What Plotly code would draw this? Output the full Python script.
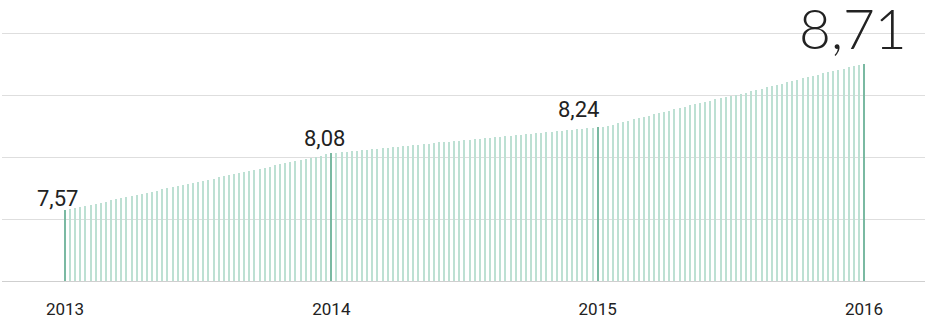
import plotly.graph_objects as go

# ---- data ----
weeks_per_year = 52
start_year = 2013
values = [
    # 2013
    7.570, 7.579, 7.588, 7.597, 7.605, 7.614, 7.623, 7.632, 7.641, 7.650,
    7.658, 7.667, 7.676, 7.685, 7.694, 7.703, 7.711, 7.720, 7.729, 7.738,
    7.747, 7.756, 7.764, 7.773, 7.782, 7.791, 7.800, 7.809, 7.817, 7.826,
    7.835, 7.844, 7.853, 7.862, 7.870, 7.879, 7.888, 7.897, 7.906, 7.915,
    7.923, 7.932, 7.941, 7.950, 7.959, 7.968, 7.976, 7.985, 7.994, 8.003,
    8.012, 8.021,
    # 2014
    8.030, 8.036, 8.040, 8.044, 8.048, 8.052, 8.056, 8.060, 8.064, 8.068,
    8.072, 8.076, 8.080, 8.084, 8.088, 8.092, 8.096, 8.100, 8.104, 8.108,
    8.112, 8.117, 8.121, 8.125, 8.129, 8.133, 8.137, 8.141, 8.145, 8.149,
    8.153, 8.157, 8.161, 8.165, 8.169, 8.173, 8.177, 8.181, 8.185, 8.189,
    8.193, 8.197, 8.201, 8.205, 8.209, 8.213, 8.217, 8.221, 8.225, 8.229,
    8.233, 8.237,
    # 2015
    8.240, 8.246, 8.253, 8.262, 8.272, 8.282, 8.292, 8.303, 8.313, 8.323,
    8.334, 8.344, 8.354, 8.365, 8.375, 8.385, 8.396, 8.406, 8.416, 8.426,
    8.436, 8.446, 8.455, 8.464, 8.473, 8.482, 8.491, 8.500, 8.509, 8.519,
    8.529, 8.540, 8.550, 8.561, 8.571, 8.582, 8.592, 8.603, 8.613, 8.624,
    8.634, 8.644, 8.654, 8.664, 8.674, 8.684, 8.694, 8.703, 8.713, 8.723,
    8.733, 8.743,
    # 2016 (first week)
    8.752,
]
x_vals = [start_year + i / weeks_per_year for i in range(len(values))]

year_ticks = [2013, 2014, 2015, 2016]
year_labels = ["2013", "2014", "2015", "2016"]
value_labels = ["7,57", "8,08", "8,24", "8,71"]

# ---- styles ----
bar_color = "#bde0d3"
year_bar_color = "#7ab9a2"
text_color = "#222222"

year_idx = [round((y - start_year) * weeks_per_year) for y in year_ticks]
colors = [year_bar_color if i in year_idx else bar_color for i in range(len(values))]

fig = go.Figure()
fig.add_trace(go.Bar(
    x=x_vals, y=values, width=0.0038,
    marker=dict(color=colors, line=dict(width=0)),
    hoverinfo="skip",
))

label_style = [
    dict(xshift=-7, yshift=-3, size=22, family="Roboto, sans-serif", weight=400),
    dict(xshift=-7, yshift=0, size=22, family="Roboto, sans-serif", weight=400),
    dict(xshift=-19, yshift=3, size=22, family="Roboto, sans-serif", weight=400),
    dict(xshift=-11, yshift=1, size=55, family="Lato, sans-serif", weight=300),
]
for yr, txt, st in zip(year_ticks, value_labels, label_style):
    i = round((yr - start_year) * weeks_per_year)
    fig.add_annotation(
        x=x_vals[i], y=values[i], xref="x", yref="y", text=txt,
        showarrow=False, xanchor="center", yanchor="bottom",
        xshift=st["xshift"], yshift=st["yshift"],
        font=dict(size=st["size"], family=st["family"], color=text_color,
                  weight=st["weight"]),
    )

fig.update_layout(
    width=944, height=322,
    margin=dict(l=2, r=19, t=31, b=41),
    paper_bgcolor="white", plot_bgcolor="white",
    showlegend=False, bargap=0,
    xaxis=dict(
        range=[2012.7635, 2016.229],
        tickvals=year_ticks, ticktext=year_labels,
        showgrid=False, zeroline=False,
        showline=True, linecolor="#cfcfcf", linewidth=1,
        ticks="", ticklabelstandoff=13,
        tickfont=dict(size=17, family="Roboto, sans-serif", color=text_color),
        fixedrange=True,
    ),
    yaxis=dict(
        range=[7, 7 + 250 / 124], dtick=0.5, tick0=7,
        showgrid=True, gridcolor="#dedede", gridwidth=1,
        zeroline=False, showticklabels=False, ticks="",
        fixedrange=True,
    ),
)

fig.write_html("out.html")
